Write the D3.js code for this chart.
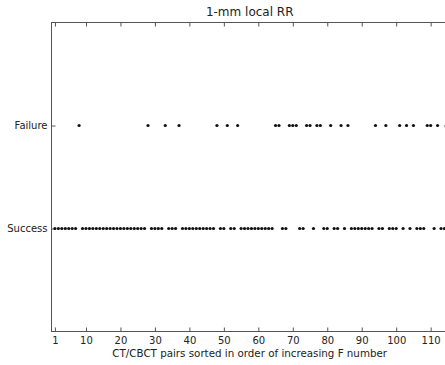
<!DOCTYPE html>
<html><head><meta charset="utf-8">
<script src="https://cdn.jsdelivr.net/npm/d3@7"></script>
<style>body{margin:0;background:#fff}svg{display:block}text{font-family:"DejaVu Sans",sans-serif;fill:#222}</style>
</head><body>
<script>
const title = "1-mm local RR";
const xLabel = "CT/CBCT pairs sorted in order of increasing F number";
const categories = ["Success", "Failure"];
const nPairs = 114;
const failureIdx = [8, 28, 33, 37, 48, 51, 54, 65, 66, 69, 70, 71, 74, 75, 77, 78, 81, 84, 86, 94, 97, 101, 103, 105, 109, 110, 112];
const xTicks = [1, 10, 20, 30, 40, 50, 60, 70, 80, 90, 100, 110];
const xDomain = [0, 115];
const yDomain = [-1, 2];

const pairs = d3.range(1, nPairs + 1).map(i => ({i, outcome: failureIdx.includes(i) ? "Failure" : "Success"}));

const W = 445, H = 365;
const m = {left: 51.5, top: 22.5, bottom: 331.5};
const x = d3.scaleLinear().domain(xDomain).range([m.left, m.left + 115 * 3.447]);
const y = d3.scaleLinear().domain(yDomain).range([m.bottom, m.top]);
const yCat = c => y(categories.indexOf(c));

const svg = d3.select("body").append("svg").attr("width", W).attr("height", H);
const x0 = x.range()[0], x1 = x.range()[1];

svg.append("rect").attr("x", x0).attr("y", m.top).attr("width", x1 - x0).attr("height", m.bottom - m.top)
  .attr("fill", "none").attr("stroke", "#555").attr("stroke-width", 1);

const bx = svg.append("g").attr("transform", `translate(0,${m.bottom})`)
  .call(d3.axisBottom(x).tickValues(xTicks).tickSizeInner(-4).tickSizeOuter(0).tickPadding(5).tickFormat(d3.format("d")));
const tx = svg.append("g").attr("transform", `translate(0,${m.top})`)
  .call(d3.axisTop(x).tickValues(xTicks).tickSizeInner(-4).tickSizeOuter(0).tickFormat(""));
const ly = svg.append("g").attr("transform", `translate(${x0},0)`)
  .call(d3.axisLeft(y).tickValues([0, 1]).tickSizeInner(-4).tickSizeOuter(0).tickPadding(4).tickFormat(d => categories[d]));
const ry = svg.append("g").attr("transform", `translate(${x1},0)`)
  .call(d3.axisRight(y).tickValues([0, 1]).tickSizeInner(-4).tickSizeOuter(0).tickFormat(""));
[bx, tx, ly, ry].forEach(g => {
  g.select(".domain").remove();
  g.selectAll(".tick line").attr("stroke", "#555");
  g.selectAll("text").attr("font-size", 10).attr("fill", "#222").attr("font-family", "DejaVu Sans, sans-serif");
});

svg.append("g").selectAll("circle").data(pairs).join("circle")
  .attr("cx", d => x(d.i)).attr("cy", d => yCat(d.outcome)).attr("r", 1.6).attr("fill", "#111");

svg.append("text").attr("x", (x0 + x1) / 2).attr("y", 16).attr("text-anchor", "middle")
  .attr("font-size", 12).text(title);
svg.append("text").attr("x", (x0 + x1) / 2).attr("y", 357).attr("text-anchor", "middle")
  .attr("font-size", 10.3).text(xLabel);
</script>
</body></html>
